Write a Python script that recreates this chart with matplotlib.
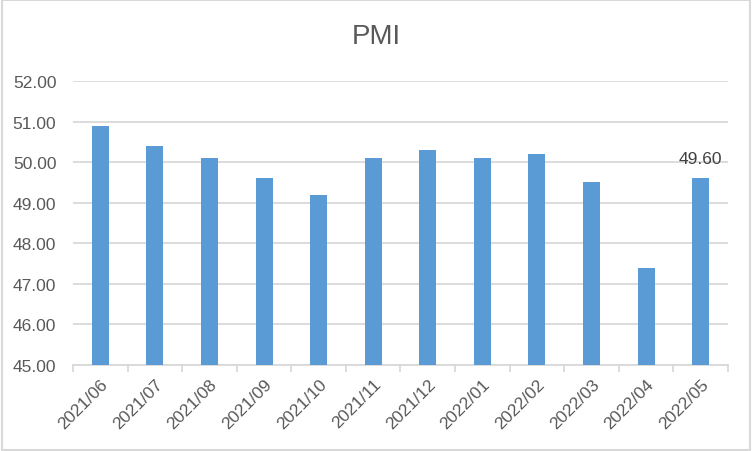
import matplotlib.pyplot as plt
import numpy as np

months = ['2021/06', '2021/07', '2021/08', '2021/09', '2021/10', '2021/11',
          '2021/12', '2022/01', '2022/02', '2022/03', '2022/04', '2022/05']
pmi = [50.9, 50.4, 50.1, 49.6, 49.2, 50.1, 50.3, 50.1, 50.2, 49.5, 47.4, 49.6]
yticks = [45, 46, 47, 48, 49, 50, 51, 52]

plt.rcParams['font.family'] = ['Liberation Sans', 'DejaVu Sans']
grey = '#595959'

fig = plt.figure(figsize=(7.52, 4.52), dpi=100)
ax = fig.add_axes([73 / 752, (452 - 366) / 452, (728 - 73) / 752, (366 - 82) / 452])

x = np.arange(len(months))
ax.bar(x, pmi, width=0.31, color='#5b9bd5', zorder=3)
ax.set_xlim(-0.5, len(months) - 0.5)
ax.set_ylim(45, 52)
ax.set_yticks(yticks)
ax.set_yticklabels([f'{v:.2f}' for v in yticks], color=grey, fontsize=12.5)
ax.yaxis.grid(True, color='#d9d9d9', linewidth=1.3, zorder=0)
ax.tick_params(axis='y', length=0, pad=12)

ax.set_xticks(x)
ax.set_xticklabels(months, rotation=45, ha='right', rotation_mode='anchor',
                   color=grey, fontsize=12.5)
ax.set_xticks(np.arange(-0.5, len(months)), minor=True)
ax.tick_params(axis='x', which='major', length=0, pad=8)
ax.tick_params(axis='x', which='minor', length=5, color='#d9d9d9', width=1.3)

for s in ['top', 'right', 'left']:
    ax.spines[s].set_visible(False)
ax.spines['bottom'].set_color('#d9d9d9')
ax.spines['bottom'].set_linewidth(1.3)

ax.annotate(f'{pmi[-1]:.2f}', (x[-1], pmi[-1]), xytext=(0, 9),
            textcoords='offset points', ha='center', va='bottom',
            color='#404040', fontsize=12.5)

fig.text(0.5, 1 - 37 / 452, 'PMI', ha='center', va='center', color=grey, fontsize=20)

border = plt.Rectangle((0.002, 0.003), 0.996, 0.994, transform=fig.transFigure,
                       fill=False, edgecolor='#d9d9d9', linewidth=1.5)
fig.patches.append(border)

fig.savefig('out.png', dpi=100)
